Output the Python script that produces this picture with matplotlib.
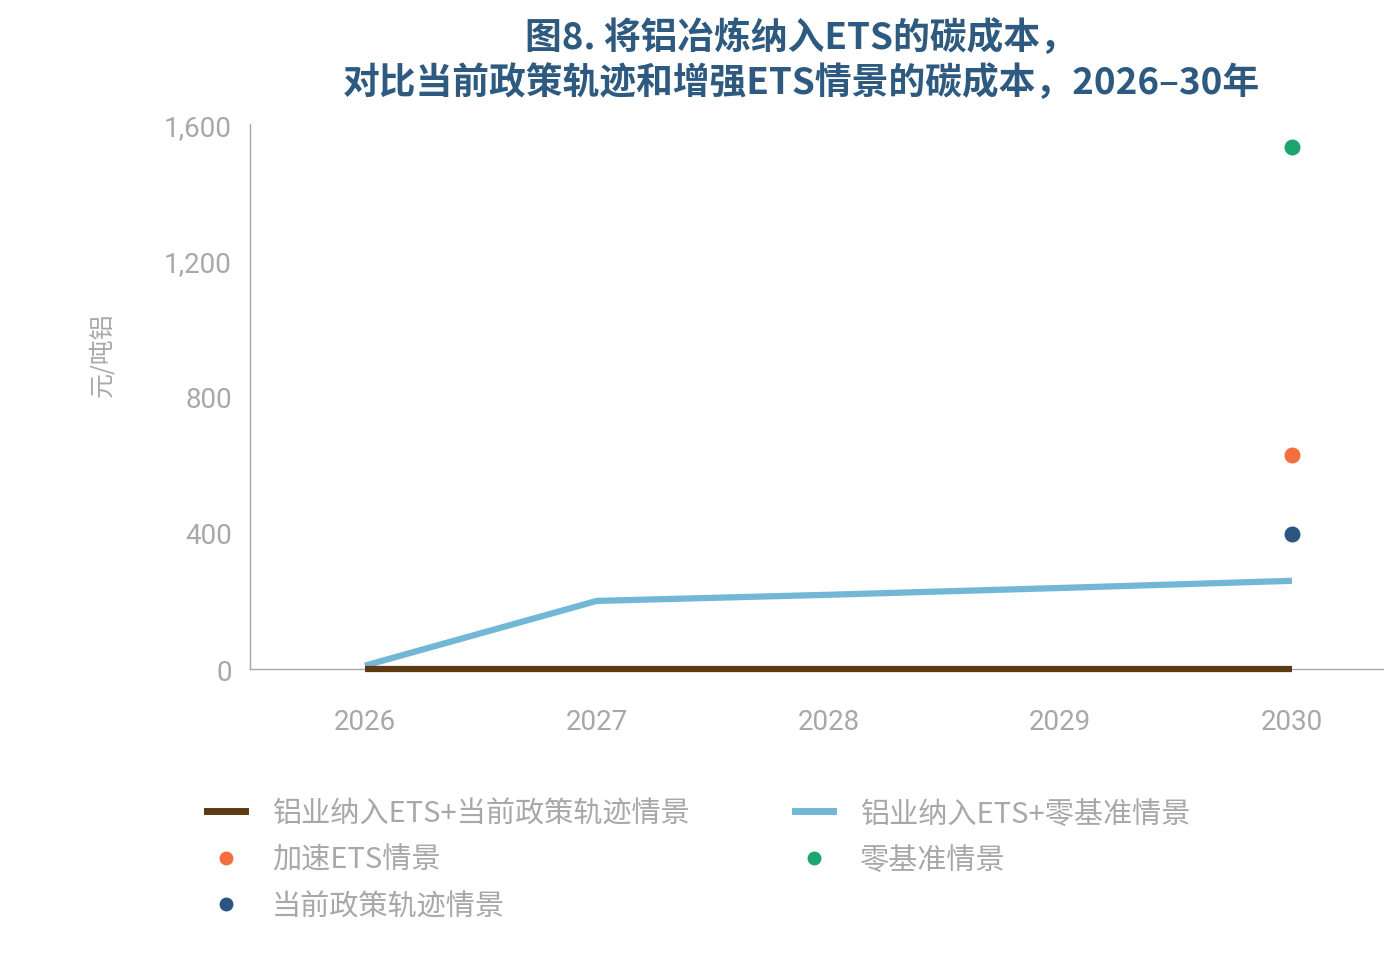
import numpy as np
import matplotlib.pyplot as plt
from matplotlib.lines import Line2D

plt.rcParams['font.family'] = ['Noto Sans CJK SC', 'DejaVu Sans']

# 数据
years = [2026, 2027, 2028, 2029, 2030]
ets_current = [0, 0, 0, 0, 0]          # 铝业纳入ETS+当前政策轨迹情景
ets_netzero = [10, 200, 218, 238, 259]  # 铝业纳入ETS+零基准情景
dot_year = 2030
accel_ets = 629      # 加速ETS情景
net_zero = 1532      # 零基准情景
current_policy = 397 # 当前政策轨迹情景

yticks = [0, 400, 800, 1200, 1600]
ytick_labels = ['0', '400', '800', '1,200', '1,600']

title = '图8. 将铝冶炼纳入ETS的碳成本，\n对比当前政策轨迹和增强ETS情景的碳成本，2026–30年'

c_brown = '#5E3A12'
c_blue = '#72B8D6'
c_orange = '#F26E3C'
c_green = '#1CA56E'
c_navy = '#2B5580'
c_grey = '#A8A8A8'
c_title = '#2F5A80'

fig = plt.figure(figsize=(13.84, 9.62), dpi=100)
ax = fig.add_axes([0.1806, 0.3035, 0.8194, 0.5665])

ax.plot(years, ets_netzero, color=c_blue, lw=4.5, solid_capstyle='butt', zorder=2)
ax.plot(years, ets_current, color=c_brown, lw=4.5, solid_capstyle='butt', zorder=3,
        clip_on=False)
ax.scatter([dot_year], [accel_ets], s=110, color=c_orange, zorder=4, clip_on=False)
ax.scatter([dot_year], [net_zero], s=110, color=c_green, zorder=4, clip_on=False)
ax.scatter([dot_year], [current_policy], s=110, color=c_navy, zorder=4, clip_on=False)

ax.set_xlim(2025.504, 2030.397)
ax.set_ylim(0, 1600)
ax.set_xticks(years)
ax.set_xticklabels([str(y) for y in years])
ax.set_yticks(yticks)
ax.set_yticklabels(ytick_labels)
ax.tick_params(length=0, colors=c_grey, labelsize=20)
ax.tick_params(axis='x', pad=28)
ax.tick_params(axis='y', pad=13)
for lab in ax.get_xticklabels() + ax.get_yticklabels():
    lab.set_family(['Roboto', 'DejaVu Sans'])

for s in ['top', 'right']:
    ax.spines[s].set_visible(False)
ax.spines['left'].set_color(c_grey)
ax.spines['bottom'].set_color(c_grey)
ax.spines['left'].set_linewidth(1)
ax.spines['bottom'].set_linewidth(1)

fig.text(0.074, 0.631, '元/吨铝', rotation=90, color=c_grey, fontsize=18,
         ha='center', va='center')

fig.text(0.579, 0.979, title, ha='center', va='top', fontsize=26.5,
         fontweight='bold', color=c_title, linespacing=1.28)

handles = [
    Line2D([], [], color=c_brown, lw=5),
    Line2D([], [], ls='none', marker='o', ms=9, color=c_orange),
    Line2D([], [], ls='none', marker='o', ms=9, color=c_navy),
    Line2D([], [], color=c_blue, lw=5),
    Line2D([], [], ls='none', marker='o', ms=9, color=c_green),
]
labels = ['铝业纳入ETS+当前政策轨迹情景', '加速ETS情景', '当前政策轨迹情景',
          '铝业纳入ETS+零基准情景', '零基准情景']
leg = fig.legend(handles, labels, ncol=2, loc='upper left',
                 bbox_to_anchor=(0.141, 0.181), frameon=False, fontsize=21,
                 handlelength=1.3, handletextpad=0.93, columnspacing=3.6,
                 labelspacing=0.56, labelcolor=c_grey, borderaxespad=0)

fig.savefig('out.png', dpi=100)
